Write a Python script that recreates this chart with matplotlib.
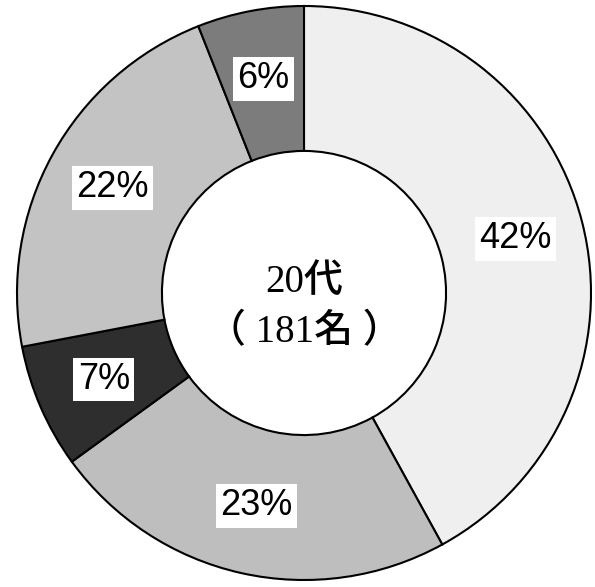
"""Donut chart of the 20s age group (181 respondents) by answer share."""
import matplotlib

matplotlib.use("Agg")
import matplotlib.pyplot as plt

# shares in percent, clockwise from 12 o'clock
shares = [42, 23, 7, 22, 6]
colors = ["#efefef", "#bebebe", "#2e2e2e", "#c3c3c3", "#7c7c7c"]
center_label = "20代\n（ 181名 ）"

fig = plt.figure(figsize=(5.95, 5.87), dpi=100)
ax = fig.add_axes([0, 0, 1, 1])

wedges, texts, autotexts = ax.pie(
    shares,
    colors=colors,
    startangle=90,
    counterclock=False,
    radius=1.0,
    autopct="%d%%",
    pctdistance=0.76,
    wedgeprops=dict(width=0.505, edgecolor="black", linewidth=1.5),
    textprops=dict(family="Liberation Sans", fontsize=26, color="black"),
)
for t in autotexts:
    t.set_bbox(dict(boxstyle="square,pad=0.12", facecolor="white", edgecolor="none"))

ax.text(0, -0.05, center_label, ha="center", va="center", fontsize=28,
        family=["Liberation Serif", "Noto Sans CJK JP"], fontweight="medium",
        linespacing=1.45)

# pixel scale: outer radius ~287 px, centre at (304, 293) from top-left
s = 287.0
ax.set_xlim(-304 / s, (595 - 304) / s)
ax.set_ylim(-(587 - 293) / s, 293 / s)
ax.set_aspect("equal")
ax.axis("off")

fig.savefig("out.png", dpi=100, facecolor="white")
